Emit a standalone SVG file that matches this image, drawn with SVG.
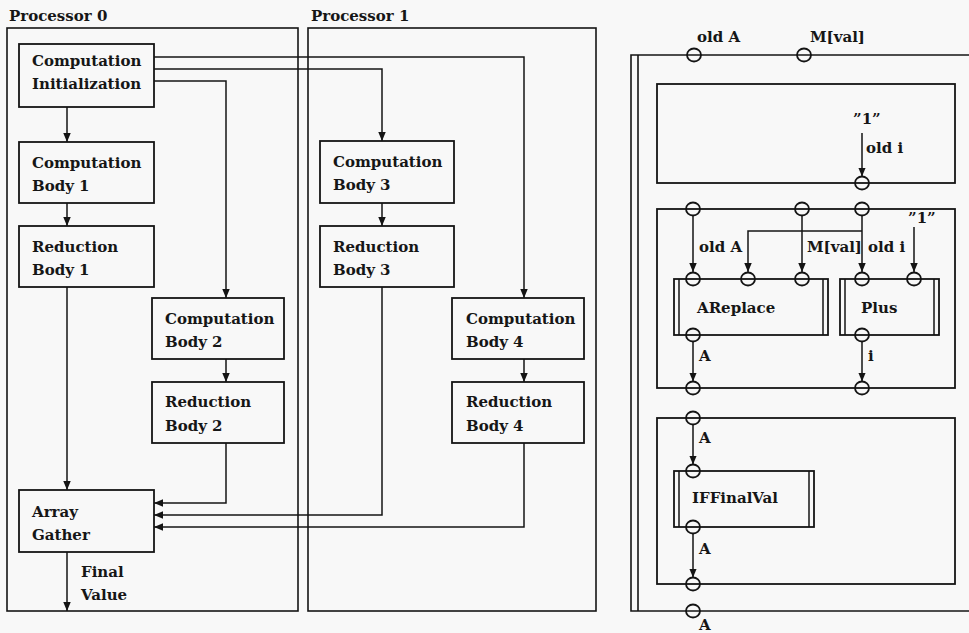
<svg xmlns="http://www.w3.org/2000/svg" width="969" height="633" viewBox="0 0 969 633">
  <style>
    .frame { fill: none; stroke: #141414; stroke-width: 1.6; }
    .box { fill: none; stroke: #141414; stroke-width: 1.8; }
    .wire { fill: none; stroke: #141414; stroke-width: 1.5; }
    .arr { fill: none; stroke: #141414; stroke-width: 1.5; marker-end: url(#head); }
    .port { fill: none; stroke: #141414; stroke-width: 1.8; }
    text { font-family: "DejaVu Serif", "Liberation Serif", serif; font-size: 15px; font-weight: bold; fill: #161616; }
  </style>
  <defs>
    <marker id="head" markerUnits="userSpaceOnUse" markerWidth="9" markerHeight="8" refX="9" refY="3.75" orient="auto">
      <path d="M0,0 L9,3.75 L0,7.5 z" fill="#141414"/>
    </marker>
  </defs>

  <rect x="0" y="0" width="969" height="633" fill="#f8f8f8"/>

  <!-- Processor partitions -->
  <g id="processor0">
    <text x="9" y="21">Processor 0</text>
    <rect class="frame" x="7" y="28" width="291" height="583"/>
  </g>
  <g id="processor1">
    <text x="311" y="21">Processor 1</text>
    <rect class="frame" x="308" y="28" width="288" height="583"/>
  </g>

  <!-- Task graph connectors -->
  <g id="connectors">
    <path class="arr" d="M154,57 H524 V298"/>
    <path class="arr" d="M154,69 H382 V141"/>
    <path class="arr" d="M154,81 H226 V298"/>
    <path class="arr" d="M67,107 V142"/>
    <path class="arr" d="M67,203 V226"/>
    <path class="arr" d="M67,287 V490"/>
    <path class="arr" d="M226,359 V382"/>
    <path class="arr" d="M226,443 V503 H154"/>
    <path class="arr" d="M382,203 V226"/>
    <path class="arr" d="M382,287 V515 H154"/>
    <path class="arr" d="M524,359 V382"/>
    <path class="arr" d="M524,443 V527 H154"/>
    <path class="arr" d="M67,552 V611"/>
  </g>

  <!-- Tasks -->
  <g id="comp-init">
    <rect class="box" x="19" y="44" width="135" height="63"/>
    <text x="32" y="66">Computation</text>
    <text x="32" y="89">Initialization</text>
  </g>
  <g id="comp-body-1">
    <rect class="box" x="19" y="142" width="135" height="61"/>
    <text x="32" y="168">Computation</text>
    <text x="32" y="191">Body 1</text>
  </g>
  <g id="red-body-1">
    <rect class="box" x="19" y="226" width="135" height="61"/>
    <text x="32" y="252">Reduction</text>
    <text x="32" y="275">Body 1</text>
  </g>
  <g id="comp-body-2">
    <rect class="box" x="152" y="298" width="132" height="61"/>
    <text x="165" y="324">Computation</text>
    <text x="165" y="347">Body 2</text>
  </g>
  <g id="red-body-2">
    <rect class="box" x="152" y="382" width="132" height="61"/>
    <text x="165" y="407">Reduction</text>
    <text x="165" y="431">Body 2</text>
  </g>
  <g id="array-gather">
    <rect class="box" x="19" y="490" width="135" height="62"/>
    <text x="32" y="517">Array</text>
    <text x="32" y="540">Gather</text>
  </g>
  <g id="final-value">
    <text x="81" y="577">Final</text>
    <text x="81" y="600">Value</text>
  </g>
  <g id="comp-body-3">
    <rect class="box" x="320" y="141" width="134" height="62"/>
    <text x="333" y="167">Computation</text>
    <text x="333" y="190">Body 3</text>
  </g>
  <g id="red-body-3">
    <rect class="box" x="320" y="226" width="134" height="61"/>
    <text x="333" y="252">Reduction</text>
    <text x="333" y="275">Body 3</text>
  </g>
  <g id="comp-body-4">
    <rect class="box" x="452" y="298" width="132" height="61"/>
    <text x="466" y="324">Computation</text>
    <text x="466" y="347">Body 4</text>
  </g>
  <g id="red-body-4">
    <rect class="box" x="452" y="382" width="132" height="61"/>
    <text x="466" y="407">Reduction</text>
    <text x="466" y="431">Body 4</text>
  </g>

  <!-- Dataflow loop template -->
  <g id="loop-frame">
    <path class="frame" d="M969,55 H631 V611 H969"/>
    <path class="frame" d="M638,55 V611"/>
    <ellipse class="port" cx="694" cy="55" rx="7" ry="6.5"/>
    <ellipse class="port" cx="804" cy="55" rx="7" ry="6.5"/>
    <text x="697" y="42">old A</text>
    <text x="810" y="42">M[val]</text>
    <ellipse class="port" cx="693" cy="611" rx="7" ry="6.5"/>
    <text x="699" y="630" font-size="14">A</text>
  </g>

  <g id="init-block">
    <rect class="box" x="657" y="84" width="298" height="99"/>
    <text x="853" y="124">”1”</text>
    <path class="arr" d="M862,133 V176.5"/>
    <text x="866" y="153">old i</text>
    <ellipse class="port" cx="862" cy="183" rx="7" ry="6.5"/>
  </g>

  <g id="body-block">
    <rect class="box" x="657" y="209" width="298" height="179"/>
    <ellipse class="port" cx="693" cy="209" rx="7" ry="6.5"/>
    <ellipse class="port" cx="802" cy="209" rx="7" ry="6.5"/>
    <ellipse class="port" cx="862" cy="209" rx="7" ry="6.5"/>
    <path class="arr" d="M693,215.5 V272"/>
    <path class="arr" d="M802,215.5 V272"/>
    <path class="arr" d="M862,215.5 V272"/>
    <path class="arr" d="M862,231 H748 V272"/>
    <text x="908" y="223">”1”</text>
    <path class="arr" d="M914,227 V272"/>
    <text x="699" y="252">old A</text>
    <text x="807" y="252">M[val]</text>
    <text x="868" y="252">old i</text>
    <path class="arr" d="M693,341.5 V381.5"/>
    <path class="arr" d="M862,341.5 V381.5"/>
    <text x="699" y="361">A</text>
    <text x="868" y="361">i</text>
    <ellipse class="port" cx="693" cy="388" rx="7" ry="6.5"/>
    <ellipse class="port" cx="862" cy="388" rx="7" ry="6.5"/>
  </g>

  <g id="areplace">
    <rect class="box" x="674" y="279" width="154" height="56"/>
    <path class="wire" d="M679,279 V335 M823,279 V335"/>
    <ellipse class="port" cx="693" cy="279" rx="7" ry="6.5"/>
    <ellipse class="port" cx="748" cy="279" rx="7" ry="6.5"/>
    <ellipse class="port" cx="802" cy="279" rx="7" ry="6.5"/>
    <ellipse class="port" cx="693" cy="335" rx="7" ry="6.5"/>
    <text x="697" y="313">AReplace</text>
  </g>

  <g id="plus">
    <rect class="box" x="840" y="279" width="99" height="56"/>
    <path class="wire" d="M845,279 V335 M934,279 V335"/>
    <ellipse class="port" cx="862" cy="279" rx="7" ry="6.5"/>
    <ellipse class="port" cx="914" cy="279" rx="7" ry="6.5"/>
    <ellipse class="port" cx="862" cy="335" rx="7" ry="6.5"/>
    <text x="861" y="313">Plus</text>
  </g>

  <g id="final-block">
    <rect class="box" x="657" y="418" width="298" height="166"/>
    <ellipse class="port" cx="693" cy="418" rx="7" ry="6.5"/>
    <path class="arr" d="M693,424.5 V464.5"/>
    <text x="699" y="443">A</text>
    <path class="arr" d="M693,533.5 V577.5"/>
    <text x="699" y="554">A</text>
    <ellipse class="port" cx="693" cy="584" rx="7" ry="6.5"/>
  </g>

  <g id="iffinalval">
    <rect class="box" x="674" y="471" width="140" height="56"/>
    <path class="wire" d="M679,471 V527 M809,471 V527"/>
    <ellipse class="port" cx="693" cy="471" rx="7" ry="6.5"/>
    <ellipse class="port" cx="693" cy="527" rx="7" ry="6.5"/>
    <text x="692" y="503">IFFinalVal</text>
  </g>
</svg>
